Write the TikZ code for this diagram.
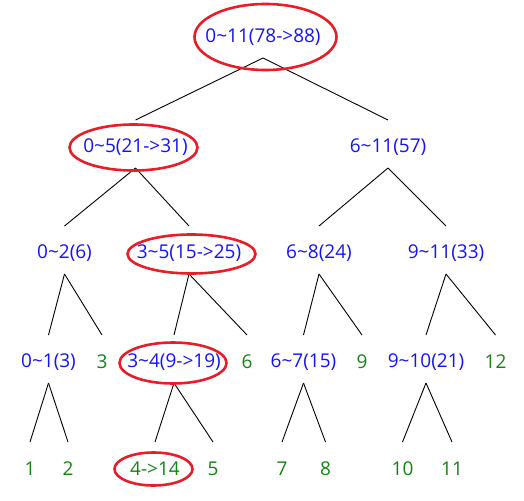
\documentclass[tikz,border=0pt]{standalone}
\usepackage{fontspec}
\setmainfont{Open Sans}
\usetikzlibrary{calc}
\definecolor{segblue}{RGB}{20,20,240}
\definecolor{leafgreen}{RGB}{20,130,20}
\definecolor{markred}{RGB}{230,30,40}
\begin{document}
\begin{tikzpicture}[x=1pt,y=-1pt,
  seg/.style={text=segblue,font=\fontsize{19}{22}\selectfont,inner sep=0pt},
  leaf/.style={text=leafgreen,font=\fontsize{19}{22}\selectfont,inner sep=0pt},
  branch/.style={draw=black,line width=0.9pt},
  ring/.style={draw=markred,line width=2.6pt}]
\useasboundingbox (0,0) rectangle (524,500);

% segment tree nodes (range(sum))
\node[seg] (r)    at (263,37)   {0\char`~11(78->88)};
\node[seg] (a)    at (135.5,147) {0\char`~5(21->31)};
\node[seg] (b)    at (388,147)  {6\char`~11(57)};
\node[seg] (aa)   at (64.5,253) {0\char`~2(6)};
\node[seg] (ab)   at (189,253)  {3\char`~5(15->25)};
\node[seg] (ba)   at (319,253)  {6\char`~8(24)};
\node[seg] (bb)   at (446,253)  {9\char`~11(33)};
\node[seg] (aaa)  at (48.5,362) {0\char`~1(3)};
\node[leaf] (aab) at (102,362)  {3};
\node[seg] (aba)  at (174,362)  {3\char`~4(9->19)};
\node[leaf] (abb) at (247,362)  {6};
\node[seg] (baa)  at (303.5,362) {6\char`~7(15)};
\node[leaf] (bab) at (362,362)  {9};
\node[seg] (bba)  at (426,362)  {9\char`~10(21)};
\node[leaf] (bbb) at (495.5,362) {12};
\node[leaf] (l1)  at (30,469)   {1};
\node[leaf] (l2)  at (68,469)   {2};
\node[leaf] (l4)  at (155,469)  {4->14};
\node[leaf] (l5)  at (213,469)  {5};
\node[leaf] (l7)  at (282,469)  {7};
\node[leaf] (l8)  at (325.5,469) {8};
\node[leaf] (l10) at (402.5,469) {10};
\node[leaf] (l11) at (452,469)  {11};

% branches: from just below the parent to just above the child
\foreach \p/\c in {r/a,r/b,a/aa,a/ab,b/ba,b/bb,aa/aaa,aa/aab,ab/aba,ab/abb,
                   ba/baa,ba/bab,bb/bba,bb/bbb,aaa/l1,aaa/l2,aba/l4,aba/l5,
                   baa/l7,baa/l8,bba/l10,bba/l11}
  \draw[branch] ([yshift=-21pt]\p.center) -- ([yshift=27pt]\c.center);

% updated path marked with ellipses
\draw[ring] ([xshift=2.5pt]r.center) ellipse [x radius=71, y radius=33];
\draw[ring] ([xshift=-2pt,yshift=-0.5pt]a.center) ellipse [x radius=64, y radius=23];
\draw[ring] ([xshift=2.5pt,yshift=-1pt]ab.center) ellipse [x radius=64, y radius=19.5];
\draw[ring] ([xshift=-1pt,yshift=-1pt]aba.center) ellipse [x radius=53.5, y radius=20.5];
\draw[ring] ([xshift=-1.5pt]l4.center) ellipse [x radius=39, y radius=16.5];
\end{tikzpicture}
\end{document}
